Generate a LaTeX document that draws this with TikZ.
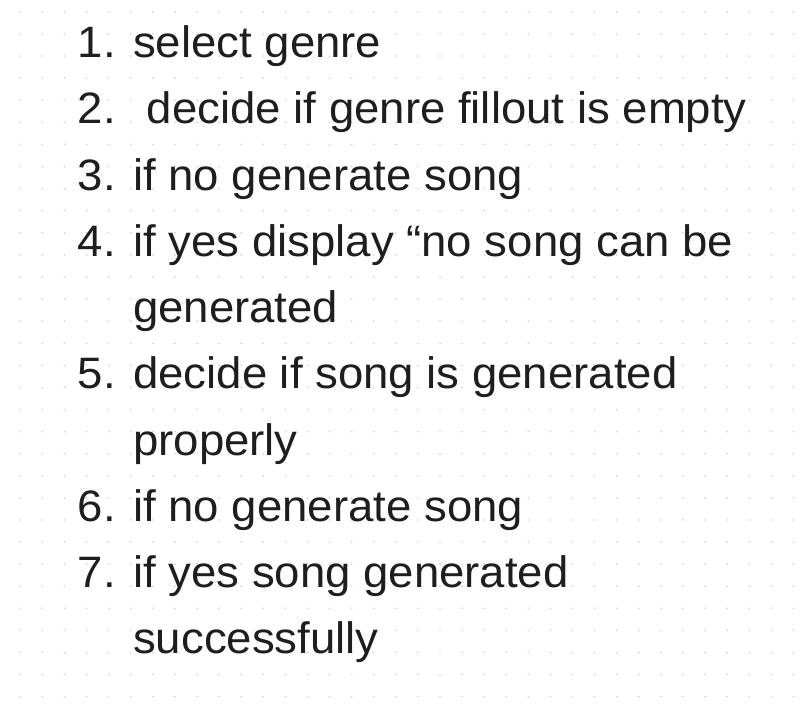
\documentclass[tikz,border=0pt]{standalone}
\usepackage{fontspec}
\setmainfont{Liberation Sans}[FakeStretch=1.035]
\definecolor{txt}{HTML}{1E1E1E}
\definecolor{dotc}{HTML}{D4D4D4}
\begin{document}
\begin{tikzpicture}[x=1pt,y=1pt,
  itemtext/.style={anchor=base west,inner sep=0pt,text=txt,font=\fontsize{44}{50}\selectfont},
  itemnum/.style={anchor=base east,inner sep=0pt,text=txt,font=\fontsize{44}{50}\selectfont}]
\useasboundingbox (0,0) rectangle (808,-712);
\fill[white] (0,0) rectangle (808,-712);
\foreach \i in {0,...,35}{
  \foreach \j in {0,...,31}{
    \fill[dotc] ({20.3+\i*22.09},{-11.9-\j*22.09}) circle (1);
  }
}
\node[itemnum] (n1) at (116,-57) {1.};
\node[itemtext] (t1) at (133,-57) {select genre};
\node[itemnum] (n2) at (116,-123) {2.};
\node[itemtext] (t2) at (146.7,-123) {decide if genre fillout is empty};
\node[itemnum] (n3) at (116,-190) {3.};
\node[itemtext] (t3) at (133,-190) {if no generate song};
\node[itemnum] (n4) at (116,-256) {4.};
\node[itemtext] (t4) at (133,-256) {if yes display “no song can be};
\node[itemtext] (t4b) at (133,-322) {generated};
\node[itemnum] (n5) at (116,-388) {5.};
\node[itemtext] (t5) at (133,-388) {decide if song is generated};
\node[itemtext] (t5b) at (133,-455) {properly};
\node[itemnum] (n6) at (116,-521) {6.};
\node[itemtext] (t6) at (133,-521) {if no generate song};
\node[itemnum] (n7) at (116,-587) {7.};
\node[itemtext] (t7) at (133,-587) {if yes song generated};
\node[itemtext] (t7b) at (133,-653) {successfully};
\end{tikzpicture}
\end{document}
